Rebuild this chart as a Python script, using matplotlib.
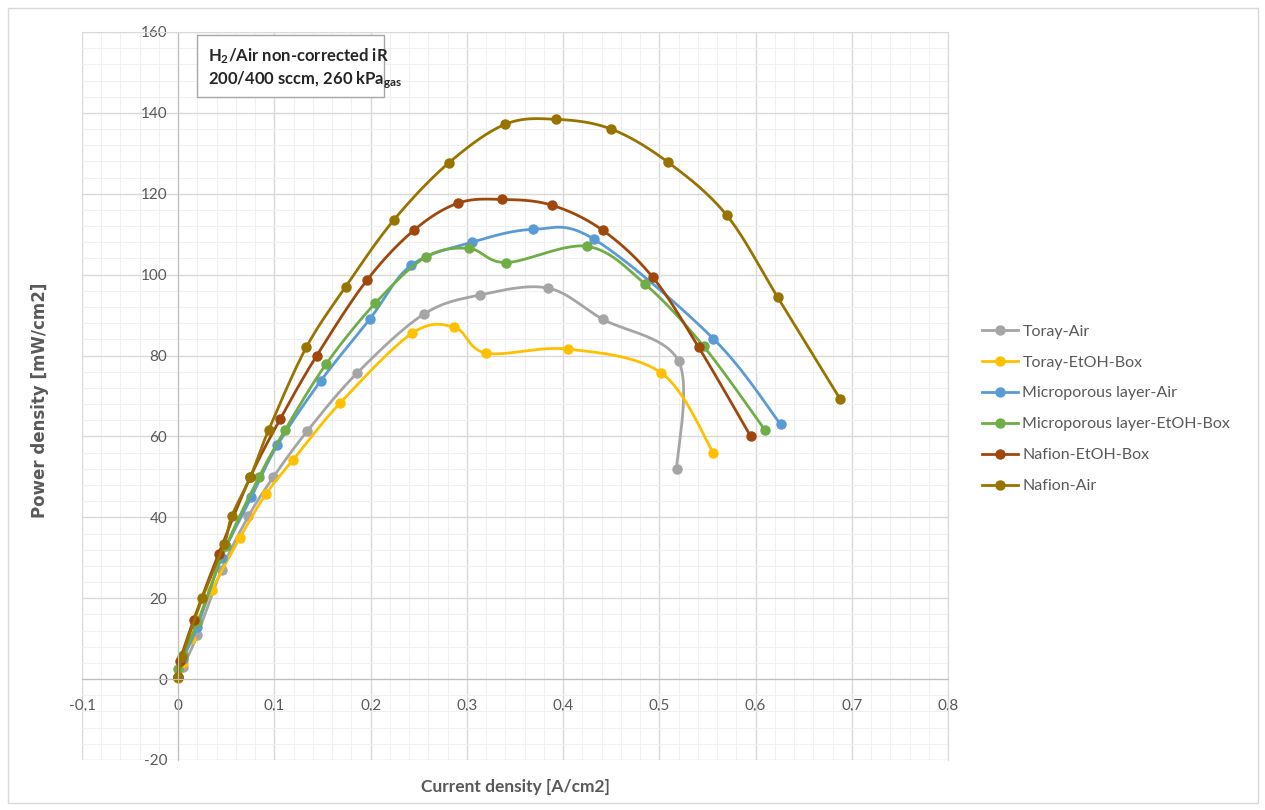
import numpy as np
import matplotlib.pyplot as plt
from matplotlib.patches import Rectangle
from matplotlib.ticker import MultipleLocator, FuncFormatter

plt.rcParams['font.family'] = ['Lato', 'DejaVu Sans']
plt.rcParams['mathtext.fontset'] = 'custom'
plt.rcParams['mathtext.rm'] = 'Lato'
plt.rcParams['mathtext.bf'] = 'Lato:bold'
plt.rcParams['mathtext.default'] = 'bf'

# data (current density A/cm2, power density mW/cm2)
toray_air_x = [0, 0.005, 0.02, 0.045, 0.073, 0.099, 0.134, 0.186, 0.255, 0.314, 0.384, 0.441, 0.52, 0.518]
toray_air_y = [0.3, 3, 11, 27, 40.3, 50, 61.3, 75.7, 90.2, 95, 96.7, 89, 78.6, 52]

toray_etoh_x = [0, 0.005, 0.013, 0.035, 0.064, 0.091, 0.119, 0.168, 0.243, 0.287, 0.32, 0.405, 0.502, 0.556]
toray_etoh_y = [0.3, 4, 10, 22, 34.9, 45.7, 54.1, 68.2, 85.5, 87, 80.6, 81.6, 75.7, 56]

mpl_air_x = [0, 0.005, 0.02, 0.045, 0.076, 0.103, 0.148, 0.199, 0.242, 0.305, 0.369, 0.432, 0.556, 0.626]
mpl_air_y = [0.5, 5, 13, 30, 45, 57.8, 73.7, 89, 102.3, 108, 111.2, 108.8, 84.2, 63]

mpl_etoh_x = [0, 0.005, 0.02, 0.05, 0.084, 0.111, 0.154, 0.205, 0.257, 0.302, 0.341, 0.425, 0.485, 0.546, 0.61]
mpl_etoh_y = [2.5, 6, 14, 33, 50, 61.6, 78, 93, 104.3, 106.5, 103, 107, 97.7, 82.3, 61.5]

nafion_etoh_x = [0, 0.002, 0.016, 0.042, 0.075, 0.106, 0.144, 0.196, 0.245, 0.291, 0.337, 0.388, 0.441, 0.493, 0.541, 0.595]
nafion_etoh_y = [0.5, 4.5, 14.6, 31, 50, 64.3, 80, 98.6, 111, 117.7, 118.6, 117.2, 111, 99.4, 82, 60]

nafion_air_x = [0, 0.004, 0.025, 0.048, 0.0556, 0.075, 0.094, 0.133, 0.174, 0.224, 0.281, 0.34, 0.393, 0.45, 0.509, 0.57, 0.623, 0.688]
nafion_air_y = [0.5, 5.5, 20, 33.5, 40.3, 50, 61.6, 82, 97, 113.5, 127.6, 137.2, 138.4, 136, 127.8, 114.7, 94.4, 69.2]

series_names = ['Toray-Air', 'Toray-EtOH-Box', 'Microporous layer-Air',
                'Microporous layer-EtOH-Box', 'Nafion-EtOH-Box', 'Nafion-Air']
series_x = [toray_air_x, toray_etoh_x, mpl_air_x, mpl_etoh_x, nafion_etoh_x, nafion_air_x]
series_y = [toray_air_y, toray_etoh_y, mpl_air_y, mpl_etoh_y, nafion_etoh_y, nafion_air_y]
colors = ['#A5A5A5', '#FFC000', '#5B9BD5', '#70AD47', '#9E480E', '#997300']


def smooth(x, y, n=30):
    # Excel-like smoothed line (Catmull-Rom / Bezier with 1/6 handles)
    p = np.column_stack([x, y]).astype(float)
    p = np.vstack([p[0], p, p[-1]])
    out = []
    t = np.linspace(0, 1, n)[:, None]
    for i in range(1, len(p) - 2):
        p0, p1, p2, p3 = p[i - 1], p[i], p[i + 1], p[i + 2]
        c1 = p1 + (p2 - p0) / 6
        c2 = p2 - (p3 - p1) / 6
        seg = ((1 - t) ** 3) * p1 + 3 * ((1 - t) ** 2) * t * c1 + 3 * (1 - t) * t ** 2 * c2 + t ** 3 * p2
        out.append(seg if i == 1 else seg[1:])
    out = np.vstack(out)
    return out[:, 0], out[:, 1]


fig = plt.figure(figsize=(12.65, 8.1), dpi=100)
ax = fig.add_axes([82 / 1265, 1 - 760 / 810, (948 - 82) / 1265, (760 - 32) / 810])

for x, y, c, name in zip(series_x, series_y, colors, series_names):
    sx, sy = smooth(x, y)
    ax.plot(sx, sy, color=c, lw=2.0, solid_capstyle='round')
    ax.plot(x, y, 'o', color=c, ms=6.5, mec=c)
    # legend proxy
    ax.plot([], [], '-o', color=c, lw=2.0, ms=6.5, label=name)

ax.set_xlim(-0.1, 0.8)
ax.set_ylim(-20, 160)
ax.xaxis.set_major_locator(MultipleLocator(0.1))
ax.xaxis.set_minor_locator(MultipleLocator(0.02))
ax.yaxis.set_major_locator(MultipleLocator(20))
ax.yaxis.set_minor_locator(MultipleLocator(4))
ax.grid(which='major', color='#D9D9D9', lw=1.0)
ax.grid(which='minor', color='#F0F0F0', lw=0.8)
ax.set_axisbelow(True)

ax.spines['left'].set_position(('data', 0))
ax.spines['bottom'].set_position(('data', 0))
ax.spines['right'].set_color('#D9D9D9')
ax.spines['top'].set_color('#D9D9D9')
ax.spines['left'].set_color('#BFBFBF')
ax.spines['bottom'].set_color('#BFBFBF')
ax.tick_params(which='both', length=0, colors='#595959', labelsize=11)
ax.tick_params(axis='x', pad=14)
ax.tick_params(axis='y', pad=8)

ax.xaxis.set_major_formatter(FuncFormatter(lambda v, p: '0' if abs(v) < 1e-9 else f'{v:.1f}'.replace('.', ',')))
ax.yaxis.set_major_formatter(FuncFormatter(lambda v, p: f'{v:.0f}'))
for lbl in ax.get_xticklabels() + ax.get_yticklabels():
    lbl.set_color('#595959')

fig.text(40 / 1265, 1 - 400 / 810, 'Power density [mW/cm2]', rotation=90, ha='center', va='center',
         fontsize=12, fontweight='bold', color='#595959', family='DejaVu Sans')
fig.text(515 / 1265, 1 - 787 / 810, 'Current density [A/cm2]', ha='center', va='center',
         fontsize=12.5, fontweight='bold', color='#595959')

# annotation box
box = Rectangle((197 / 1265, 1 - 97 / 810), (384 - 197) / 1265, (97 - 35) / 810,
                transform=fig.transFigure, facecolor='white', edgecolor='#A6A6A6', lw=1, zorder=5)
fig.patches.append(box)
fig.text(208 / 1265, 1 - 56 / 810, r'H$_2$/Air non-corrected iR', fontsize=12, fontweight='bold',
         color='#262626', va='center', zorder=6)
fig.text(208 / 1265, 1 - 80 / 810, r'200/400 sccm, 260 kPa$_{gas}$', fontsize=12, fontweight='bold',
         color='#262626', va='center', zorder=6)

leg = fig.legend(loc='upper left', bbox_to_anchor=(968 / 1265, 1 - 310 / 810), frameon=False,
                 fontsize=11.5, handlelength=2.2, labelspacing=1.05, handletextpad=0.3)
for t in leg.get_texts():
    t.set_color('#595959')

# chart area border
fig.patches.append(Rectangle((8 / 1265, 1 - 803 / 810), (1258 - 8) / 1265, (803 - 8) / 810,
                             transform=fig.transFigure, facecolor='none', edgecolor='#D9D9D9', lw=1))

fig.savefig('out.png', dpi=100)
